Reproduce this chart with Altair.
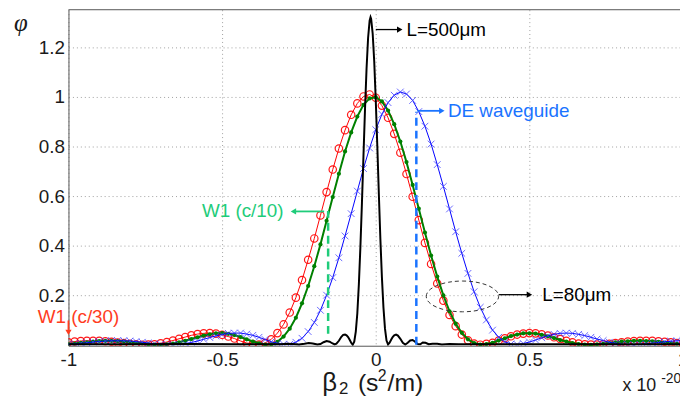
import altair as alt
import pandas as pd

# ---------------- data ----------------
beta_grid = [
    -1.00, -0.98, -0.96, -0.94, -0.92, -0.90, -0.88, -0.86, -0.84, -0.82,
    -0.80, -0.78, -0.76, -0.74, -0.72, -0.70, -0.68, -0.66, -0.64, -0.62,
    -0.60, -0.58, -0.56, -0.54, -0.52, -0.50, -0.48, -0.46, -0.44, -0.42,
    -0.40, -0.38, -0.36, -0.34, -0.32, -0.30, -0.28, -0.26, -0.24, -0.22,
    -0.20, -0.18, -0.16, -0.14, -0.12, -0.10, -0.08, -0.06, -0.04, -0.02,
    0.00, 0.02, 0.04, 0.06, 0.08, 0.10, 0.12, 0.14, 0.16, 0.18,
    0.20, 0.22, 0.24, 0.26, 0.28, 0.30, 0.32, 0.34, 0.36, 0.38,
    0.40, 0.42, 0.44, 0.46, 0.48, 0.50, 0.52, 0.54, 0.56, 0.58,
    0.60, 0.62, 0.64, 0.66, 0.68, 0.70, 0.72, 0.74, 0.76, 0.78,
    0.80, 0.82, 0.84, 0.86, 0.88, 0.90, 0.92, 0.94, 0.96, 0.98,
    1.00,
]

# W1 (c/30) - red circles
red_phi = [
    0.010, 0.013, 0.015, 0.016, 0.016, 0.016, 0.014, 0.012, 0.009, 0.007,
    0.004, 0.002, 0.000, 0.001, 0.002, 0.006, 0.011, 0.017, 0.024, 0.031,
    0.038, 0.043, 0.046, 0.047, 0.045, 0.040, 0.033, 0.025, 0.015, 0.007,
    0.003, 0.001, 0.007, 0.022, 0.047, 0.082, 0.130, 0.190, 0.261, 0.343,
    0.429, 0.522, 0.616, 0.707, 0.792, 0.866, 0.928, 0.974, 1.002, 1.010,
    0.997, 0.965, 0.916, 0.851, 0.775, 0.689, 0.597, 0.503, 0.411, 0.326,
    0.247, 0.178, 0.120, 0.075, 0.041, 0.018, 0.005, 0.000, 0.004, 0.008,
    0.017, 0.026, 0.034, 0.041, 0.045, 0.047, 0.046, 0.042, 0.037, 0.030,
    0.023, 0.016, 0.010, 0.005, 0.002, 0.001, 0.001, 0.002, 0.004, 0.007,
    0.010, 0.013, 0.015, 0.016, 0.016, 0.016, 0.014, 0.012, 0.010, 0.007,
    0.005,
]

# W1 (c/10) - green dots
green_phi = [
    0.003, 0.005, 0.008, 0.010, 0.013, 0.015, 0.016, 0.016, 0.015, 0.013,
    0.011, 0.008, 0.005, 0.002, 0.001, 0.000, 0.002, 0.005, 0.010, 0.016,
    0.023, 0.030, 0.037, 0.042, 0.046, 0.047, 0.044, 0.039, 0.031, 0.022,
    0.013, 0.006, 0.001, 0.002, 0.012, 0.033, 0.065, 0.109, 0.167, 0.237,
    0.317, 0.405, 0.500, 0.596, 0.690, 0.780, 0.857, 0.921, 0.968, 0.994,
    0.999, 0.982, 0.945, 0.890, 0.820, 0.737, 0.645, 0.549, 0.453, 0.360,
    0.275, 0.199, 0.135, 0.085, 0.048, 0.022, 0.007, 0.001, 0.003, 0.008,
    0.017, 0.026, 0.035, 0.041, 0.046, 0.046, 0.045, 0.040, 0.034, 0.027,
    0.019, 0.013, 0.007, 0.003, 0.001, 0.000, 0.002, 0.004, 0.007, 0.010,
    0.013, 0.014, 0.016, 0.016, 0.015, 0.014, 0.012, 0.009, 0.007, 0.004,
    0.002,
]

# DE waveguide - blue crosses
blue_phi = [
    0.002, 0.003, 0.006, 0.008, 0.011, 0.013, 0.015, 0.016, 0.016, 0.016,
    0.015, 0.013, 0.010, 0.007, 0.004, 0.002, 0.001, 0.001, 0.002, 0.005,
    0.009, 0.015, 0.022, 0.029, 0.036, 0.041, 0.046, 0.047, 0.047, 0.043,
    0.038, 0.030, 0.021, 0.012, 0.006, 0.002, 0.002, 0.010, 0.026, 0.053,
    0.090, 0.139, 0.200, 0.271, 0.351, 0.439, 0.529, 0.620, 0.711, 0.794,
    0.868, 0.930, 0.977, 1.007, 1.020, 1.012, 0.986, 0.941, 0.882, 0.810,
    0.727, 0.639, 0.548, 0.456, 0.369, 0.288, 0.214, 0.151, 0.100, 0.059,
    0.030, 0.012, 0.003, 0.001, 0.005, 0.011, 0.019, 0.028, 0.036, 0.042,
    0.046, 0.047, 0.046, 0.042, 0.037, 0.030, 0.023, 0.017, 0.010, 0.006,
    0.002, 0.001, 0.000, 0.002, 0.004, 0.006, 0.009, 0.012, 0.014, 0.016,
    0.016,
]

# L = 500 um - black line
black_beta = [
    -1.0, -0.8, -0.6, -0.45, -0.35, -0.31, -0.29, -0.27, -0.25, -0.232,
    -0.218, -0.205, -0.19, -0.18, -0.17, -0.16, -0.15, -0.142, -0.134, -0.128,
    -0.12, -0.112, -0.106, -0.1, -0.095, -0.09, -0.085, -0.08, -0.075, -0.07,
    -0.065, -0.06, -0.055, -0.05, -0.045, -0.04, -0.035, -0.03, -0.025, -0.02,
    -0.017, -0.015, -0.01, -0.005, 0.0, 0.005, 0.01, 0.015, 0.02, 0.025,
    0.03, 0.035, 0.04, 0.045, 0.05, 0.055, 0.06, 0.066, 0.072, 0.08,
    0.088, 0.096, 0.104, 0.112, 0.12, 0.128, 0.136, 0.145, 0.153, 0.162,
    0.172, 0.185, 0.2, 0.215, 0.24, 0.27, 0.35, 0.5, 0.7, 0.85,
    1.0,
]
black_phi = [
    0.002, 0.002, 0.003, 0.002, 0.002, 0.002, 0.004, 0.003, 0.001, 0.004,
    0.007, 0.005, 0.001, 0.003, 0.010, 0.015, 0.012, 0.006, 0.001, 0.004,
    0.016, 0.032, 0.040, 0.041, 0.038, 0.031, 0.020, 0.008, 0.000, 0.012,
    0.053, 0.127, 0.244, 0.395, 0.572, 0.763, 0.951, 1.114, 1.238, 1.308,
    1.322, 1.315, 1.255, 1.143, 0.986, 0.803, 0.609, 0.427, 0.272, 0.150,
    0.065, 0.017, 0.001, 0.008, 0.020, 0.031, 0.038, 0.041, 0.037, 0.024,
    0.008, 0.001, 0.008, 0.017, 0.019, 0.012, 0.003, 0.002, 0.009, 0.008,
    0.002, 0.004, 0.004, 0.001, 0.003, 0.002, 0.002, 0.002, 0.002, 0.002,
    0.002,
]

x_ticks = [-1, -0.5, 0, 0.5]
y_ticks = [0.2, 0.4, 0.6, 0.8, 1.0, 1.2]

# ---------------- chart ----------------
FONT = "Liberation Sans"
X_DOMAIN = [-1, 0.99]
Y_DOMAIN = [-0.004, 1.352]

xs = alt.Scale(domain=X_DOMAIN, nice=False, zero=False)
ys = alt.Scale(domain=Y_DOMAIN, nice=False, zero=False)

red_df = pd.DataFrame({"beta": beta_grid, "phi": red_phi})
green_df = pd.DataFrame({"beta": beta_grid, "phi": green_phi})
blue_df = pd.DataFrame({"beta": beta_grid, "phi": blue_phi})
black_df = pd.DataFrame({"beta": black_beta, "phi": black_phi})
one = pd.DataFrame({"k": [0]})

x_axis = alt.Axis(
    values=x_ticks, title=None, labelExpr="'' + datum.value", labelFlush=False,
    labelFontSize=19, labelFont=FONT, labelColor="#1a1a1a", labelPadding=5,
    ticks=False, grid=True, gridDash=[1, 3], gridColor="#a0a0a0",
    domainColor="#555555", labelOverlap=False,
)
y_axis = alt.Axis(
    values=y_ticks, title=None, labelExpr="'' + datum.value",
    labelFontSize=19, labelFont=FONT, labelColor="#1a1a1a", labelPadding=4,
    ticks=False, grid=True, gridDash=[1, 3], gridColor="#a0a0a0",
    domainColor="#555555", labelOverlap=False,
)

ENC = dict(x=alt.X("beta:Q", scale=xs, axis=x_axis),
           y=alt.Y("phi:Q", scale=ys, axis=y_axis))

red_line = alt.Chart(red_df).mark_line(color="#ff0000", strokeWidth=1, clip=True).encode(**ENC)
red_pts = alt.Chart(red_df).mark_point(shape="circle", filled=False, color="#ff0000", size=56,
                                       strokeWidth=1.2, opacity=0.9, clip=True).encode(**ENC)
green_line = alt.Chart(green_df).mark_line(color="#008000", strokeWidth=2, clip=True).encode(**ENC)
green_pts = alt.Chart(green_df).mark_point(shape="circle", filled=True, color="#008000", size=18,
                                           opacity=1, clip=True).encode(**ENC)
blue_line = alt.Chart(blue_df).mark_line(color="#0000ff", strokeWidth=1, clip=True).encode(**ENC)
blue_pts = alt.Chart(blue_df).mark_point(shape="M -1 -1 L 1 1 M -1 1 L 1 -1", filled=False,
                                         color="#3a3aff", size=46, strokeWidth=1, opacity=0.75,
                                         clip=True).encode(**ENC)
black_line = alt.Chart(black_df).mark_line(color="#000000", strokeWidth=2, clip=True).encode(**ENC)


def hrule(x1, x2, y, color, width=1.5, dash=None):
    kw = dict(color=color, strokeWidth=width)
    if dash:
        kw["strokeDash"] = dash
    return alt.Chart(one).mark_rule(**kw).encode(x=alt.datum(x1), x2=alt.datum(x2), y=alt.datum(y))


def vrule(x, y1, y2, color, width=1.5, dash=None):
    kw = dict(color=color, strokeWidth=width)
    if dash:
        kw["strokeDash"] = dash
    return alt.Chart(one).mark_rule(**kw).encode(x=alt.datum(x), y=alt.datum(y1), y2=alt.datum(y2))


def head(x, y, shape, color, size=42):
    return alt.Chart(one).mark_point(shape=shape, filled=True, color=color, size=size,
                                     opacity=1).encode(x=alt.datum(x), y=alt.datum(y))


def label(x, y, text, color, align="left", size=19):
    return alt.Chart(one).mark_text(text=text, align=align, baseline="middle", font=FONT,
                                    fontSize=size, color=color).encode(x=alt.datum(x), y=alt.datum(y))


def ptext(px, py, text, size, baseline="alphabetic", font=FONT, style="normal", align="left"):
    return alt.Chart(one).mark_text(text=text, align=align, baseline=baseline, font=font,
                                    fontSize=size, fontStyle=style, color="#1a1a1a"
                                    ).encode(x=alt.value(px), y=alt.value(py))


BLUE_T = "#1a73ff"
GREEN_T = "#1fcc7a"
RED_T = "#ff3c1e"

annotations = [
    # top frame line
    alt.Chart(one).mark_rule(color="#555555", strokeWidth=1).encode(y=alt.value(0)),
    # L=500um
    hrule(0.0, 0.075, 1.272, "#000000", 1.3),
    head(0.078, 1.272, "triangle-right", "#000000", 40),
    label(0.10, 1.272, "L=500\u03bcm", "#000000"),
    # DE waveguide
    vrule(0.132, 0.0, 0.94, BLUE_T, 2.5, [8, 5]),
    hrule(0.135, 0.213, 0.944, BLUE_T, 1.8),
    head(0.215, 0.944, "triangle-right", BLUE_T, 40),
    label(0.235, 0.944, "DE waveguide", BLUE_T),
    # W1 (c/10)
    vrule(-0.155, 0.044, 0.54, GREEN_T, 2.5, [8, 5]),
    hrule(-0.168, -0.265, 0.538, GREEN_T, 1.8),
    head(-0.268, 0.538, "triangle-left", GREEN_T, 40),
    label(-0.30, 0.538, "W1 (c/10)", GREEN_T, align="right"),
    # L=80um with dashed ellipse
    alt.Chart(one).mark_point(
        shape="M -1 0 A 1 0.425 0 1 1 1 0 A 1 0.425 0 1 1 -1 0 Z", filled=False,
        color="#333333", size=5329, strokeWidth=1, strokeDash=[4, 3], opacity=1,
    ).encode(x=alt.datum(0.282), y=alt.datum(0.195)),
    hrule(0.40, 0.497, 0.202, "#000000", 1.3),
    head(0.50, 0.202, "triangle-right", "#000000", 40),
    label(0.542, 0.202, "L=80\u03bcm", "#000000"),
    # W1 (c/30)
    vrule(-1.0, 0.098, 0.06, RED_T, 1.8),
    head(-1.0, 0.05, "triangle-down", RED_T, 40),
    label(-1.10, 0.112, "W1 (c/30)", RED_T),
    # right-most tick label, cut by the edge as in the picture
    alt.Chart(one).mark_text(text="1", align="center", baseline="top", font=FONT, fontSize=19,
                             color="#1a1a1a").encode(x=alt.datum(1.0), y=alt.value(344)),
    # y title
    ptext(-48, 1, "\u03c6", 25, baseline="top", font="Liberation Serif", style="italic",
          align="center"),
    # x title: beta_2 (s^2/m)
    ptext(256, 385, "\u03b2", 26),
    ptext(273, 388, "2", 17),
    ptext(292, 385, "(s", 25),
    ptext(312, 375, "2", 16),
    ptext(322, 385, "/m)", 25),
    # multiplier
    ptext(559, 385, "x 10", 18),
    ptext(598, 377, "-20", 14),
]

chart = alt.layer(
    red_line, red_pts, green_line, green_pts, blue_line, blue_pts, black_line, *annotations
).properties(
    width=617, height=339,
    autosize=alt.AutoSizeParams(type="none"),
    padding={"left": 61, "top": 0, "right": 0, "bottom": 52},
).configure_view(stroke=None)

chart.save("out.html", embed_options={"renderer": "svg", "actions": False})
